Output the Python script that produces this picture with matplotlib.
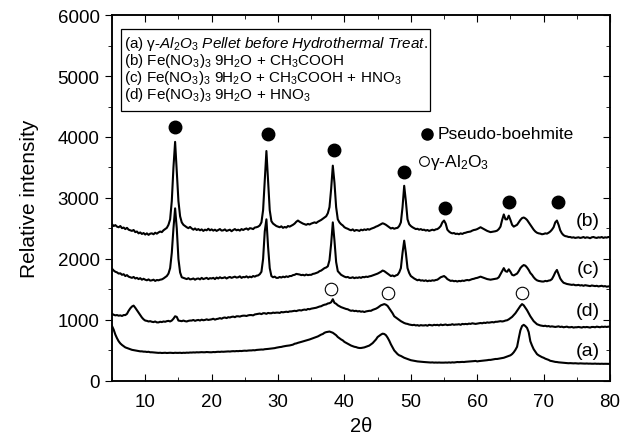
import numpy as np
import matplotlib
matplotlib.use("Agg")
import matplotlib.pyplot as plt
from matplotlib.ticker import MultipleLocator
from matplotlib.patches import Rectangle

plt.rcParams['font.family'] = ['Liberation Sans', 'DejaVu Sans']
plt.rcParams['mathtext.fontset'] = 'custom'
plt.rcParams['mathtext.rm'] = 'Liberation Sans'
plt.rcParams['mathtext.it'] = 'Liberation Sans:italic'

# scan grid, 0.25 deg step
two_theta = np.arange(5, 80.001, 0.25)

# (b) Fe(NO3)3 9H2O + CH3COOH
int_b = [
    2570, 2540, 2555, 2530, 2520, 2540, 2505, 2515, 2490, 2510, 2480, 2470, 2460, 2475, 2440, 2450, 2420, 2435, 2410, 2425,
    2400, 2420, 2395, 2415, 2420, 2405, 2430, 2415, 2435, 2450, 2440, 2470, 2490, 2510, 2560, 2650, 2950, 3500, 3920, 3450,
    2950, 2700, 2600, 2560, 2540, 2520, 2505, 2525, 2500, 2480, 2500, 2475, 2490, 2470, 2485, 2460, 2480, 2470, 2495, 2470,
    2485, 2465, 2480, 2460, 2475, 2490, 2465, 2470, 2485, 2460, 2470, 2480, 2455, 2475, 2490, 2470, 2480, 2465, 2490, 2475,
    2490, 2500, 2480, 2505, 2500, 2490, 2515, 2520, 2530, 2550, 2600, 2800, 3300, 3770, 3300, 2800, 2620, 2580, 2560, 2540,
    2530, 2520, 2535, 2510, 2525, 2515, 2540, 2530, 2545, 2560, 2580, 2610, 2630, 2610, 2595, 2580, 2570, 2560, 2575, 2565,
    2580, 2590, 2600, 2590, 2610, 2625, 2640, 2660, 2680, 2700, 2750, 2850, 3150, 3530, 3250, 2850, 2650, 2600, 2570, 2550,
    2520, 2505, 2495, 2480, 2470, 2485, 2460, 2475, 2470, 2460, 2480, 2470, 2485, 2475, 2490, 2480, 2495, 2505, 2515, 2530,
    2540, 2555, 2570, 2585, 2575, 2560, 2540, 2520, 2500, 2510, 2495, 2505, 2510, 2540, 2600, 2850, 3200, 2950, 2650, 2570,
    2540, 2520, 2505, 2490, 2495, 2480, 2490, 2475, 2480, 2465, 2475, 2460, 2470, 2480, 2470, 2485, 2490, 2510, 2540, 2600,
    2630, 2580, 2480, 2450, 2430, 2420, 2425, 2410, 2415, 2405, 2420, 2410, 2425, 2430, 2440, 2445, 2450, 2465, 2475, 2480,
    2490, 2505, 2520, 2505, 2490, 2475, 2460, 2450, 2440, 2445, 2450, 2455, 2465, 2490, 2530, 2640, 2730, 2650, 2650, 2710,
    2640, 2560, 2530, 2545, 2560, 2600, 2640, 2670, 2680, 2665, 2640, 2600, 2560, 2520, 2480, 2450, 2430, 2420, 2415, 2405,
    2410, 2420, 2415, 2430, 2450, 2480, 2520, 2600, 2630, 2560, 2470, 2420, 2390, 2375, 2370, 2360, 2360, 2350, 2355, 2345,
    2350, 2355, 2345, 2350, 2360, 2345, 2355, 2350, 2340, 2355, 2360, 2350, 2345, 2355, 2350, 2360, 2345, 2355, 2350, 2360,
    2355,
]

# (c) Fe(NO3)3 9H2O + CH3COOH + HNO3
int_c = [
    1840, 1810, 1790, 1780, 1760, 1765, 1740, 1750, 1720, 1735, 1710, 1700, 1690, 1705, 1680, 1690, 1670, 1685, 1660, 1675,
    1660, 1650, 1665, 1645, 1650, 1660, 1640, 1655, 1650, 1660, 1665, 1680, 1700, 1720, 1760, 1850, 2100, 2500, 2830, 2500,
    2000, 1780, 1700, 1690, 1680, 1670, 1685, 1665, 1670, 1680, 1660, 1675, 1680, 1665, 1690, 1670, 1680, 1690, 1670, 1685,
    1680, 1690, 1670, 1695, 1680, 1700, 1685, 1690, 1700, 1680, 1695, 1705, 1690, 1700, 1710, 1695, 1700, 1715, 1690, 1705,
    1700, 1715, 1695, 1710, 1700, 1720, 1710, 1725, 1730, 1750, 1790, 2000, 2450, 2650, 2200, 1850, 1720, 1700, 1710, 1690,
    1690, 1705, 1695, 1710, 1700, 1715, 1705, 1720, 1720, 1735, 1740, 1755, 1750, 1745, 1735, 1740, 1730, 1745, 1735, 1740,
    1740, 1755, 1760, 1770, 1780, 1800, 1810, 1830, 1850, 1860, 1880, 1980, 2250, 2600, 2300, 1950, 1800, 1770, 1740, 1725,
    1710, 1700, 1705, 1690, 1690, 1700, 1685, 1695, 1690, 1700, 1690, 1705, 1700, 1710, 1705, 1715, 1720, 1730, 1740, 1750,
    1760, 1775, 1790, 1810, 1800, 1780, 1760, 1740, 1720, 1730, 1715, 1730, 1740, 1780, 1850, 2100, 2300, 2100, 1850, 1770,
    1720, 1700, 1680, 1665, 1650, 1660, 1645, 1650, 1640, 1650, 1635, 1645, 1640, 1650, 1645, 1655, 1660, 1680, 1700, 1710,
    1720, 1700, 1670, 1655, 1640, 1645, 1635, 1640, 1630, 1640, 1635, 1645, 1640, 1650, 1655, 1650, 1660, 1670, 1675, 1685,
    1690, 1700, 1710, 1700, 1690, 1680, 1670, 1665, 1660, 1665, 1670, 1675, 1680, 1700, 1750, 1800, 1850, 1800, 1790, 1830,
    1790, 1740, 1730, 1745, 1760, 1800, 1850, 1880, 1900, 1890, 1860, 1820, 1770, 1740, 1700, 1670, 1650, 1640, 1635, 1630,
    1630, 1640, 1635, 1645, 1650, 1670, 1720, 1780, 1820, 1750, 1680, 1640, 1610, 1600, 1590, 1585, 1580, 1575, 1580, 1570,
    1570, 1575, 1565, 1570, 1560, 1570, 1565, 1560, 1555, 1565, 1560, 1555, 1560, 1550, 1555, 1560, 1550, 1555, 1545, 1550,
    1550,
]

# (d) Fe(NO3)3 9H2O + HNO3
int_d = [
    1100, 1085, 1075, 1080, 1070, 1075, 1065, 1080, 1080, 1100, 1150, 1190, 1220, 1235, 1200, 1160, 1120, 1080, 1040, 1010,
    990, 985, 975, 980, 970, 965, 975, 960, 960, 970, 965, 975, 970, 980, 985, 975, 990, 1020, 1060, 1050,
    990, 985, 980, 990, 980, 975, 985, 990, 990, 1000, 985, 995, 1000, 990, 1005, 995, 1000, 1010, 1000, 1005,
    1010, 1020, 1005, 1015, 1020, 1030, 1020, 1035, 1040, 1030, 1045, 1040, 1050, 1055, 1045, 1060, 1060, 1055, 1065, 1070,
    1070, 1065, 1075, 1080, 1080, 1075, 1090, 1095, 1100, 1105, 1095, 1110, 1110, 1100, 1115, 1110, 1110, 1120, 1115, 1120,
    1120, 1115, 1130, 1125, 1130, 1135, 1130, 1140, 1140, 1145, 1150, 1145, 1155, 1160, 1155, 1165, 1170, 1165, 1180, 1175,
    1185, 1190, 1195, 1200, 1210, 1220, 1225, 1240, 1250, 1255, 1270, 1275, 1290, 1340, 1280, 1265, 1240, 1225, 1210, 1200,
    1190, 1180, 1175, 1160, 1150, 1155, 1145, 1150, 1140, 1145, 1135, 1140, 1130, 1140, 1145, 1150, 1150, 1165, 1175, 1185,
    1200, 1220, 1240, 1250, 1260, 1250, 1230, 1190, 1150, 1110, 1060, 1040, 1020, 1000, 980, 965, 950, 940, 935, 925,
    920, 915, 920, 910, 915, 905, 915, 910, 910, 915, 905, 920, 915, 910, 920, 915, 920, 910, 925, 915,
    920, 925, 915, 920, 920, 930, 920, 925, 925, 930, 920, 935, 930, 935, 930, 940, 935, 945, 940, 935,
    940, 945, 950, 945, 955, 950, 960, 955, 960, 965, 960, 970, 970, 975, 980, 975, 980, 990, 995, 1010,
    1030, 1050, 1080, 1110, 1150, 1190, 1230, 1260, 1240, 1200, 1160, 1110, 1060, 1020, 980, 955, 930, 920, 910, 905,
    900, 905, 895, 900, 890, 895, 890, 885, 890, 895, 885, 890, 880, 885, 890, 880, 880, 885, 875, 880,
    880, 885, 880, 875, 885, 880, 885, 880, 875, 885, 885, 880, 890, 885, 880, 890, 885, 890, 885, 890,
    890,
]

# (a) gamma-Al2O3 pellet before hydrothermal treatment
int_a = [
    900, 840, 760, 700, 650, 615, 590, 570, 550, 540, 530, 520, 510, 505, 500, 495, 490, 485, 485, 480,
    480, 475, 478, 470, 470, 468, 465, 462, 460, 462, 458, 460, 462, 458, 460, 462, 460, 458, 462, 460,
    460, 462, 458, 462, 460, 464, 462, 466, 465, 468, 466, 470, 468, 470, 472, 470, 470, 474, 472, 470,
    470, 474, 472, 476, 478, 476, 480, 478, 480, 482, 484, 482, 486, 488, 486, 490, 488, 492, 490, 494,
    496, 494, 498, 500, 500, 504, 502, 508, 510, 512, 515, 514, 520, 522, 525, 528, 530, 535, 538, 545,
    550, 555, 558, 565, 570, 575, 578, 582, 588, 595, 610, 615, 625, 632, 640, 648, 655, 665, 672, 680,
    690, 700, 710, 720, 730, 745, 760, 770, 790, 800, 805, 810, 800, 790, 770, 750, 720, 700, 680, 665,
    640, 625, 610, 595, 580, 570, 560, 555, 545, 540, 540, 545, 550, 560, 570, 580, 600, 620, 650, 680,
    720, 740, 760, 775, 770, 750, 710, 660, 600, 550, 500, 470, 440, 420, 410, 395, 380, 370, 360, 350,
    340, 335, 330, 325, 320, 318, 315, 312, 310, 308, 305, 305, 302, 304, 300, 302, 300, 302, 300, 300,
    300, 302, 300, 304, 300, 305, 302, 306, 310, 308, 310, 312, 310, 314, 316, 318, 320, 322, 325, 328,
    320, 325, 328, 330, 335, 338, 340, 345, 345, 350, 355, 360, 360, 365, 370, 375, 380, 390, 400, 410,
    420, 440, 470, 510, 560, 700, 830, 900, 920, 900, 870, 800, 650, 580, 520, 480, 440, 420, 405, 390,
    380, 365, 355, 345, 330, 325, 318, 312, 310, 305, 302, 300, 298, 295, 292, 290, 292, 290, 288, 290,
    288, 285, 288, 286, 285, 284, 286, 283, 284, 282, 282, 284, 281, 282, 280, 282, 280, 281, 280, 280,
    280,
]

# peak markers
boehmite_x = [14.5, 28.5, 38.4, 48.9, 55.2, 64.8, 72.1]
boehmite_y = [4170, 4050, 3780, 3430, 2840, 2940, 2940]
alumina_x = [38.0, 46.6, 66.8]
alumina_y = [1510, 1440, 1440]

curve_labels = ['(b)', '(c)', '(d)', '(a)']
curve_label_y = [2630, 1840, 1150, 500]

legend_lines = [
    r'(a) γ-$\mathit{Al_2O_3\ Pellet\ before\ Hydrothermal\ Treat.}$',
    r'(b) Fe(NO$_3$)$_3$ 9H$_2$O + CH$_3$COOH',
    r'(c) Fe(NO$_3$)$_3$ 9H$_2$O + CH$_3$COOH + HNO$_3$',
    r'(d) Fe(NO$_3$)$_3$ 9H$_2$O + HNO$_3$',
]
legend_y = [5545, 5265, 4985, 4705]

fig = plt.figure(figsize=(6.34, 4.39), dpi=100)
ax = fig.add_axes([0.1767, 0.130, 0.7855, 0.8335])

for ys in (int_b, int_c, int_d, int_a):
    ax.plot(two_theta, ys, color='black', lw=1.5)

ax.plot(boehmite_x, boehmite_y, 'o', color='black', ms=9)
ax.plot(alumina_x, alumina_y, 'o', mfc='white', mec='black', mew=0.8, ms=9)

for lab, y in zip(curve_labels, curve_label_y):
    ax.text(76.7, y, lab, fontsize=14, ha='center', va='center')

# marker key
ax.plot([52.4], [4050], 'o', color='black', ms=8)
ax.text(54.0, 4050, 'Pseudo-boehmite', fontsize=12.5, va='center')
ax.plot([52.0], [3600], 'o', mfc='white', mec='black', mew=0.8, ms=7)
ax.text(52.9, 3600, r'γ-Al$_2$O$_3$', fontsize=12.5, va='center')

# sample legend box
ax.add_patch(Rectangle((6.36, 4430), 46.6, 1340, fill=False, lw=0.9, ec='black'))
for txt, y in zip(legend_lines, legend_y):
    ax.text(6.8, y, txt, fontsize=11, va='center')

ax.set_xlim(5, 80)
ax.set_ylim(0, 6000)
ax.xaxis.set_major_locator(MultipleLocator(10))
ax.xaxis.set_minor_locator(MultipleLocator(5))
ax.yaxis.set_major_locator(MultipleLocator(1000))
ax.yaxis.set_minor_locator(MultipleLocator(500))
ax.tick_params(axis='x', which='both', direction='in', top=True, labelsize=13.5, pad=9)
ax.tick_params(axis='x', which='major', length=5)
ax.tick_params(axis='x', which='minor', length=3)
ax.tick_params(axis='y', which='both', direction='out', right=False, labelsize=13.5, pad=4)
ax.tick_params(axis='y', which='major', length=5)
ax.tick_params(axis='y', which='minor', length=3)

ax2 = ax.twinx()
ax2.set_ylim(0, 6000)
ax2.yaxis.set_major_locator(MultipleLocator(1000))
ax2.yaxis.set_minor_locator(MultipleLocator(500))
ax2.tick_params(axis='y', which='both', direction='in', labelright=False)
ax2.tick_params(axis='y', which='major', length=5)
ax2.tick_params(axis='y', which='minor', length=3)

for a in (ax, ax2):
    for s in a.spines.values():
        s.set_linewidth(1.1)

ax.set_xlabel('2θ', fontsize=14.5, labelpad=4)
ax.set_ylabel('Relative intensity', fontsize=15, labelpad=13)

fig.savefig('out.png', dpi=100)
